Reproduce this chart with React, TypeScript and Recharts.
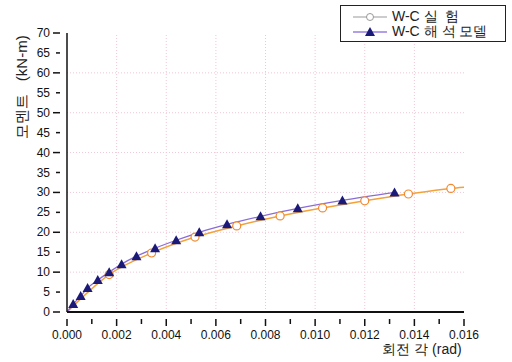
import React from "react";
import { LineChart, Line, XAxis, YAxis, ReferenceLine } from "recharts";

// W-C test (open circles)
const testX = [0, 0.0017, 0.00341, 0.00516, 0.00684, 0.00859, 0.0103, 0.012, 0.01376, 0.01547, 0.016];
const testY = [0, 9.4, 14.8, 18.8, 21.6, 24.1, 26.1, 27.9, 29.6, 31.0, 31.3];
// W-C analysis model (triangles)
const modelX = [0, 0.00025, 0.00055, 0.00083, 0.00124, 0.0017, 0.0022, 0.0028, 0.00355, 0.0044, 0.00533, 0.00645, 0.0078, 0.0093, 0.0111, 0.0132];
const modelY = [0, 2, 4, 6, 8, 10, 12, 14, 16, 18, 20, 22, 24, 26, 28, 30];

const xTicks = [0, 0.001, 0.002, 0.003, 0.004, 0.005, 0.006, 0.007, 0.008, 0.009, 0.01, 0.011, 0.012, 0.013, 0.014, 0.015, 0.016];
const yTicks = [0, 5, 10, 15, 20, 25, 30, 35, 40, 45, 50, 55, 60, 65, 70];
const xGrid = [0.002, 0.004, 0.006, 0.008, 0.01, 0.012, 0.014];
const yGrid = [10, 20, 30, 40, 50, 60];

const testData = testX.map((x, i) => ({ x, y: testY[i] }));
const modelData = modelX.map((x, i) => ({ x, y: modelY[i] }));

const FONT = "'Liberation Sans', Arial, sans-serif";

const XTick = (props: any) => {
  const { x, y, payload, index } = props;
  const major = index % 2 === 0;
  return (
    <g>
      <line x1={x} y1={y - 1} x2={x} y2={y + (major ? 6 : 4)} stroke="#111" strokeWidth={1.5} />
      {major && (
        <text x={x} y={y + 19} textAnchor="middle" fontSize={12} fill="#111" fontFamily={FONT}>
          {payload.value.toFixed(3)}
        </text>
      )}
    </g>
  );
};

const YTick = (props: any) => {
  const { x, y, payload } = props;
  const major = payload.value % 10 === 0;
  return (
    <g>
      <line x1={x + 1} y1={y} x2={x - (major ? 6 : 3)} y2={y} stroke="#111" strokeWidth={1.5} />
      <text x={x - 9} y={y + 4} textAnchor="end" fontSize={12} fill="#111" fontFamily={FONT}>
        {payload.value}
      </text>
    </g>
  );
};

const circleDot = (props: any) => {
  const { cx, cy, index } = props;
  if (index === 0 || index === testX.length - 1) return <g key={index} />;
  return <circle key={index} cx={cx} cy={cy} r={4} fill="#fff" stroke="#f08a30" strokeWidth={1.2} />;
};

const triDot = (props: any) => {
  const { cx, cy, index } = props;
  if (index === 0) return <g key={index} />;
  return <path key={index} d={`M${cx},${cy - 5}L${cx + 5},${cy + 4}L${cx - 5},${cy + 4}Z`} fill="#1c1a78" />;
};

const LegendBox = () => (
  <div style={{ position: "absolute", left: 340, top: 5, border: "1px solid #222", width: 166, height: 37, background: "#fff", fontFamily: FONT, fontSize: 14, color: "#222", boxSizing: "border-box", padding: "3px 0 0 12px" }}>
    <div style={{ display: "flex", alignItems: "center", height: 15 }}>
      <svg width={36} height={12}>
        <line x1={0} y1={6} x2={34} y2={6} stroke="#999" />
        <circle cx={17} cy={6} r={3.5} fill="#fff" stroke="#999" />
      </svg>
      <span style={{ marginLeft: 3 }}>W-C 실 &nbsp;험</span>
    </div>
    <div style={{ display: "flex", alignItems: "center", height: 15 }}>
      <svg width={36} height={12}>
        <line x1={0} y1={6} x2={34} y2={6} stroke="#9a7ee0" strokeWidth={1.5} />
        <path d="M17,1L22,10L12,10Z" fill="#1c1a78" />
      </svg>
      <span style={{ marginLeft: 3 }}>W-C 해 석 모델</span>
    </div>
  </div>
);

export default function App() {
  return (
    <div style={{ position: "absolute", left: 0, top: 0, width: 512, height: 362, background: "#fff" }}>
      <LineChart width={512} height={362} margin={{ top: 33, right: 48, bottom: 0, left: 0 }}>
        {yGrid.map((v) => (
          <ReferenceLine key={"h" + v} y={v} stroke="#f2c6d6" strokeDasharray="1 2" />
        ))}
        {xGrid.map((v) => (
          <ReferenceLine key={"v" + v} x={v} stroke="#f2c6d6" strokeDasharray="1 2" />
        ))}
        <XAxis
          type="number"
          dataKey="x"
          domain={[0, 0.016]}
          ticks={xTicks}
          interval={0}
          tick={<XTick />}
          tickLine={false}
          axisLine={{ stroke: "#111", strokeWidth: 2 }}
          height={50}
          allowDataOverflow
        />
        <YAxis
          type="number"
          dataKey="y"
          domain={[0, 70]}
          ticks={yTicks}
          interval={0}
          tick={<YTick />}
          tickLine={false}
          axisLine={{ stroke: "#111", strokeWidth: 1.5 }}
          width={67}
        />
        <Line
          data={testData}
          dataKey="y"
          type="monotone"
          stroke="#f3a23a"
          strokeWidth={1.5}
          dot={circleDot}
          isAnimationActive={false}
        />
        <Line
          data={modelData}
          dataKey="y"
          type="monotone"
          stroke="#8a6cd6"
          strokeWidth={1.3}
          dot={triDot}
          isAnimationActive={false}
        />
        <text x={422} y={354} textAnchor="middle" fontSize={14} fill="#222" fontFamily={FONT}>
          회전 각 (rad)
        </text>
        <text x={27} y={87} textAnchor="middle" fontSize={15} fill="#222" fontFamily={FONT} transform="rotate(-90 27 87)">
          모멘트 &nbsp;&nbsp;(kN-m)
        </text>
      </LineChart>
      <LegendBox />
    </div>
  );
}
